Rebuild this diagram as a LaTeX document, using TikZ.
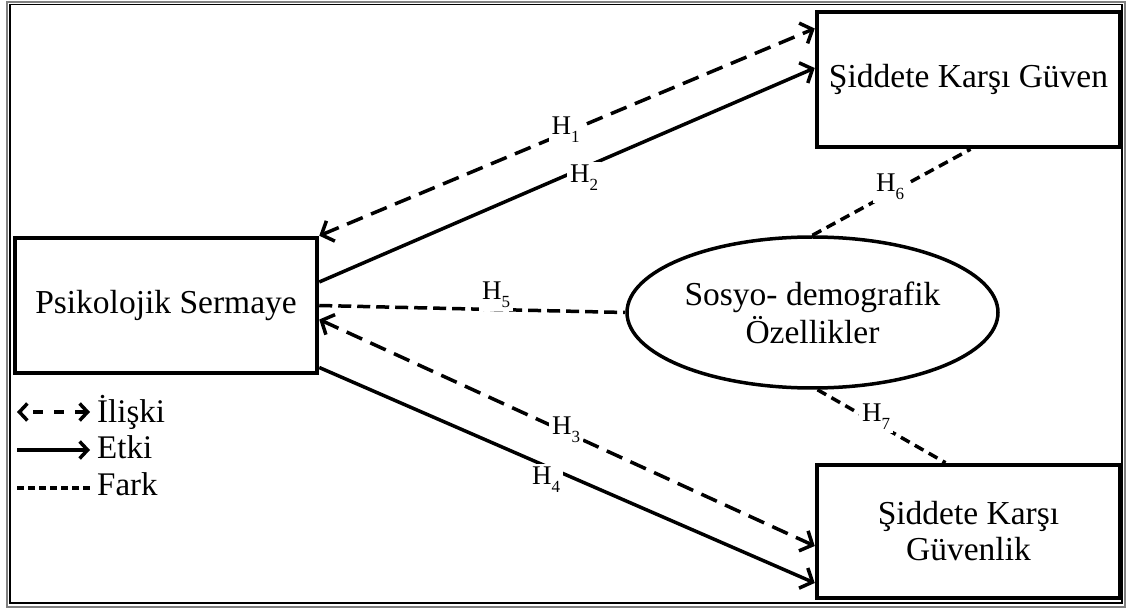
\documentclass[tikz,border=0pt]{standalone}
\usepackage{fontspec}
\setmainfont{Liberation Serif}
\usetikzlibrary{arrows.meta,shapes.geometric}
\newcommand{\hyp}[1]{H\raisebox{-8pt}{\fontsize{17}{17}\selectfont #1}}
\begin{document}
\begin{tikzpicture}[x=1pt,y=-1pt,
 box/.style={draw,line width=4.5pt,rectangle,inner sep=0pt,align=center,font=\fontsize{33.5}{36}\selectfont},
 oval/.style={draw,ellipse,line width=3.5pt,inner sep=0pt,align=center,font=\fontsize{33.5}{38}\selectfont},
 conn/.style={line width=3.5pt},
 dsh/.style={conn,dash pattern=on 17pt off 9pt},
 fark/.style={conn,dash pattern=on 13pt off 6pt},
 farks/.style={conn,dash pattern=on 10pt off 6pt},
 tip/.style={-{Straight Barb[length=10pt,width=22pt]}},
 bitip/.style={{Straight Barb[length=10pt,width=22pt]}-{Straight Barb[length=10pt,width=22pt]}},
 ltip/.style={-{Straight Barb[length=8pt,width=17pt]}},
 lbitip/.style={{Straight Barb[length=8pt,width=17pt]}-{Straight Barb[length=8pt,width=17pt]}},
 hlab/.style={fill=white,inner sep=3pt,font=\fontsize{27}{27}\selectfont},
 leg/.style={anchor=base west,inner sep=0pt,font=\fontsize{33}{36}\selectfont}]
\useasboundingbox (0,0) rectangle (1128,609);
\draw[gray,line width=1.2pt] (7,2) rectangle (1125,607);
\draw[line width=1.2pt] (10,4.5) rectangle (1122,603);

\node[box,minimum width=303pt,minimum height=135pt] (A) at (968.5,79.5) {Şiddete Karşı Güven};
\node[box,minimum width=303pt,minimum height=133pt] (C) at (968.5,531.5) {Şiddete Karşı\\Güvenlik};
\node[box,minimum width=302pt,minimum height=135pt] (P) at (166,305.5) {Psikolojik Sermaye};
\node[oval,minimum width=371pt,minimum height=151pt] (E) at (812.5,312.5) {Sosyo- demografik\\Özellikler};

\draw[dsh,bitip] (P.north east) -- ([yshift=51pt]A.west);
\draw[conn,tip] ([yshift=23.5pt]P.east) -- ([yshift=11.5pt]A.west);
\draw[fark] (P.east) -- (E.west);
\draw[dsh,bitip] ([yshift=-14pt]P.east) -- ([yshift=-14.5pt]C.west);
\draw[conn,tip] ([yshift=-62pt]P.east) -- ([yshift=-51.5pt]C.west);
\draw[farks] (E.north) -- ([xshift=2pt]A.south);
\draw[farks] ([xshift=5pt]E.south) -- ([xshift=-23pt]C.north);

\node[hlab] (h1) at (565.5,130) {\hyp{1}};
\node[hlab] (h2) at (584,178) {\hyp{2}};
\node[hlab] (h5) at (496,295) {\hyp{5}};
\node[hlab] (h3) at (566,430) {\hyp{3}};
\node[hlab] (h4) at (546,480) {\hyp{4}};
\node[hlab] (h6) at (890,187) {\hyp{6}};
\node[hlab] (h7) at (876,417) {\hyp{7}};

\coordinate (l1a) at (17,412); \coordinate (l1b) at (90,412);
\coordinate (l2a) at (17,450); \coordinate (l2b) at (90,450);
\coordinate (l3a) at (17,488); \coordinate (l3b) at (90,488);
\draw[conn,lbitip,dash pattern=on 10pt off 11pt,dash phase=-12pt] (l1a) -- (l1b);
\draw[conn,ltip] (l2a) -- (l2b);
\draw[conn,dash pattern=on 7pt off 4pt] (l3a) -- (l3b);
\node[leg] (t1) at (97,423) {İlişki};
\node[leg] (t2) at (97,459) {Etki};
\node[leg] (t3) at (97,496) {Fark};
\end{tikzpicture}
\end{document}
